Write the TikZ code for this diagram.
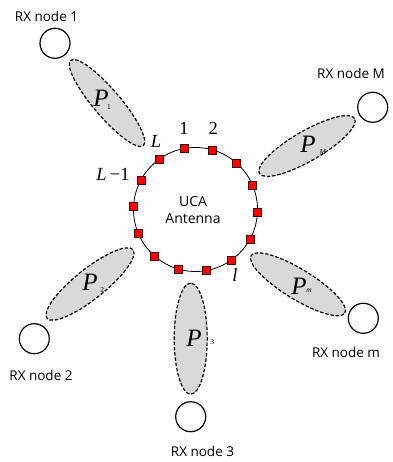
\documentclass[tikz,border=0pt]{standalone}
\usepackage{fontspec}
\setmainfont{Liberation Serif}
\newfontfamily\labfont{Open Sans}
\usetikzlibrary{shapes.geometric,calc}
\tikzset{
  x=1pt, y=1pt,
  rxnode/.style={draw=black, line width=1.2pt, circle, minimum size=30pt, inner sep=0pt},
  rxlabel/.style={font=\labfont\fontsize{13.5}{15}\selectfont, inner sep=0pt},
  region/.style={draw=black, line width=1.2pt, dash pattern=on 3.5pt off 1.8pt, fill=black!15},
  antsq/.style={draw=black!70!red, line width=0.5pt, fill=red, minimum size=8pt, inner sep=0pt},
  plab/.style={font=\itshape\fontsize{25}{25}\selectfont, inner sep=0pt},
  psub/.style={font=\fontsize{7.5}{7.5}\selectfont, inner sep=0pt},
  idx/.style={font=\fontsize{18.5}{19}\selectfont, inner sep=0pt},
}
\begin{document}
\begin{tikzpicture}
\useasboundingbox (0,0) rectangle (392,462);
% UCA
\coordinate (c) at (195.5,252.5);
\draw[line width=0.8pt] (c) circle[radius=62];
\node[font=\labfont\fontsize{14}{16.5}\selectfont, align=center, inner sep=0pt] (uca) at (193,252) {UCA\\Antenna};
\foreach \k in {0,...,13} {
  \node[antsq] (a\k) at ($(c)+({100-25.714*\k}:62)$) {};
}
% regions
\draw[region] (107,359) ellipse[x radius=56, y radius=13.5, rotate=-49.6];
\draw[region] (307,316) ellipse[x radius=55, y radius=15, rotate=30];
\draw[region] (90,178) ellipse[x radius=55, y radius=15, rotate=38.5];
\draw[region] (190.7,123.3) ellipse[x radius=55.5, y radius=16.5, rotate=90];
\draw[region] (298,177.7) ellipse[x radius=55, y radius=15, rotate=-31.5];
% P labels
\node[plab] (p1) at (101,363.7) {P};
\node[psub] (p1s) at (109,355.3) {1};
\node[plab] (pM) at (308,318) {P};
\node[psub] (pMs) at (322.7,310.3) {\itshape M};
\node[plab] (p2) at (90,180) {P};
\node[psub] (p2s) at (102.3,172) {2};
\node[plab] (p3) at (194,124) {P};
\node[psub] (p3s) at (212.3,120.3) {3};
\node[plab] (pm) at (299,176) {P};
\node[psub] (pms) at (309,171.3) {\itshape m};
% RX nodes
\node[rxnode] (rx1) at (55,418.7) {};
\node[rxlabel] (rx1l) at (46.5,446) {RX node 1};
\node[rxnode] (rxM) at (372.7,354.7) {};
\node[rxlabel] (rxMl) at (351,389) {RX node M};
\node[rxnode] (rx2) at (34.3,123.3) {};
\node[rxlabel] (rx2l) at (41,87) {RX node 2};
\node[rxnode] (rx3) at (190.7,45.3) {};
\node[rxlabel] (rx3l) at (202.5,10.3) {RX node 3};
\node[rxnode] (rxm) at (363.3,143.7) {};
\node[rxlabel] (rxml) at (346,109.7) {RX node m};
% indices
\node[idx] (i1) at (184,334) {1};
\node[idx] (i2) at (213.3,334) {2};
\node[idx] (iL) at (156,320.7) {\itshape L};
\node[idx] (iL1) at (113,288) {\itshape L\,\upshape −1};
\node[idx] (il) at (235,187) {\itshape l};
\end{tikzpicture}
\end{document}
